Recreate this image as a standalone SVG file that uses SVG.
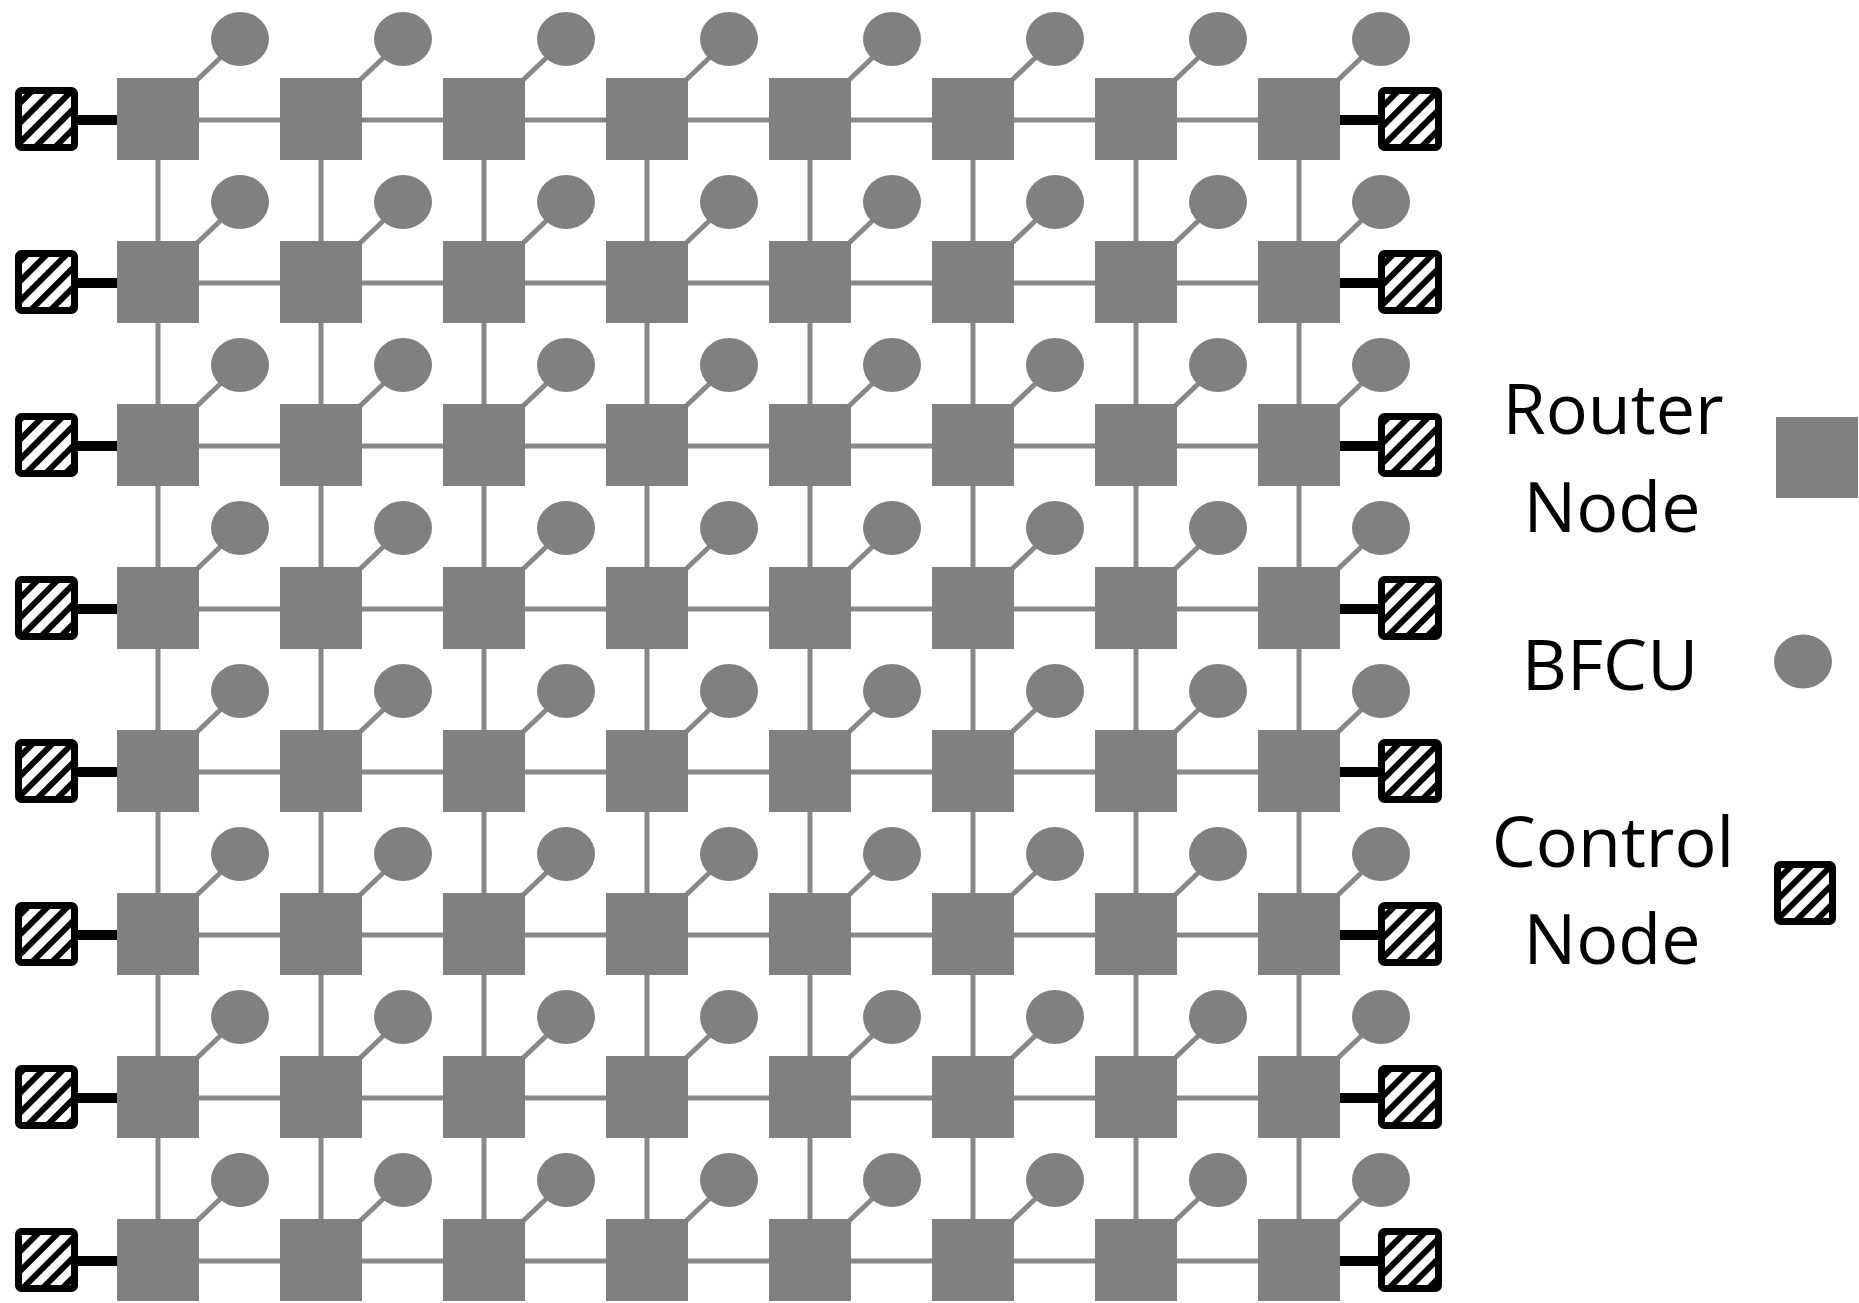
<svg xmlns="http://www.w3.org/2000/svg" width="1859" height="1303" viewBox="0 0 1859 1303">
<style>
.router{fill:#808080}
.bfcu{fill:#808080}
.link{stroke:#888888;stroke-width:5;fill:none}
.ctl-link{stroke:#000;stroke-width:10;fill:none}
.ctl{fill:url(#hatch);stroke:#000;stroke-width:7}
.lbl{font-family:"Open Sans","Liberation Sans",sans-serif;font-size:70px;fill:#000;text-anchor:middle}
</style>
<defs>
<pattern id="hatch" patternUnits="userSpaceOnUse" width="14" height="14" patternTransform="rotate(45)">
<rect width="14" height="14" fill="#fff"/>
<rect width="6" height="14" fill="#000"/>
</pattern>
</defs>
<rect width="1859" height="1303" fill="#fff"/>
<g id="connectors">
<path class="link" d="M158 120H1299M158 283H1299M158 446H1299M158 609H1299M158 772H1299M158 935H1299M158 1098H1299M158 1261H1299"/>
<path class="link" d="M158 120V1261M321 120V1261M484 120V1261M647 120V1261M810 120V1261M973 120V1261M1136 120V1261M1299 120V1261"/>
<path class="link" d="M197 80L238 41M360 80L401 41M523 80L564 41M686 80L727 41M849 80L890 41M1012 80L1053 41M1175 80L1216 41M1338 80L1379 41"/>
<path class="link" d="M197 243L238 204M360 243L401 204M523 243L564 204M686 243L727 204M849 243L890 204M1012 243L1053 204M1175 243L1216 204M1338 243L1379 204"/>
<path class="link" d="M197 406L238 367M360 406L401 367M523 406L564 367M686 406L727 367M849 406L890 367M1012 406L1053 367M1175 406L1216 367M1338 406L1379 367"/>
<path class="link" d="M197 569L238 530M360 569L401 530M523 569L564 530M686 569L727 530M849 569L890 530M1012 569L1053 530M1175 569L1216 530M1338 569L1379 530"/>
<path class="link" d="M197 732L238 693M360 732L401 693M523 732L564 693M686 732L727 693M849 732L890 693M1012 732L1053 693M1175 732L1216 693M1338 732L1379 693"/>
<path class="link" d="M197 895L238 856M360 895L401 856M523 895L564 856M686 895L727 856M849 895L890 856M1012 895L1053 856M1175 895L1216 856M1338 895L1379 856"/>
<path class="link" d="M197 1058L238 1019M360 1058L401 1019M523 1058L564 1019M686 1058L727 1019M849 1058L890 1019M1012 1058L1053 1019M1175 1058L1216 1019M1338 1058L1379 1019"/>
<path class="link" d="M197 1221L238 1182M360 1221L401 1182M523 1221L564 1182M686 1221L727 1182M849 1221L890 1182M1012 1221L1053 1182M1175 1221L1216 1182M1338 1221L1379 1182"/>
<path class="ctl-link" d="M76 120H118M76 283H118M76 446H118M76 609H118M76 772H118M76 935H118M76 1098H118M76 1261H118"/>
<path class="ctl-link" d="M1339 120H1380M1339 283H1380M1339 446H1380M1339 609H1380M1339 772H1380M1339 935H1380M1339 1098H1380M1339 1261H1380"/>
</g>
<g id="routers">
<g id="router-1-1"><rect class="router" x="117" y="78" width="82" height="82"/></g>
<g id="router-1-2"><rect class="router" x="280" y="78" width="82" height="82"/></g>
<g id="router-1-3"><rect class="router" x="443" y="78" width="82" height="82"/></g>
<g id="router-1-4"><rect class="router" x="606" y="78" width="82" height="82"/></g>
<g id="router-1-5"><rect class="router" x="769" y="78" width="82" height="82"/></g>
<g id="router-1-6"><rect class="router" x="932" y="78" width="82" height="82"/></g>
<g id="router-1-7"><rect class="router" x="1095" y="78" width="82" height="82"/></g>
<g id="router-1-8"><rect class="router" x="1258" y="78" width="82" height="82"/></g>
<g id="router-2-1"><rect class="router" x="117" y="241" width="82" height="82"/></g>
<g id="router-2-2"><rect class="router" x="280" y="241" width="82" height="82"/></g>
<g id="router-2-3"><rect class="router" x="443" y="241" width="82" height="82"/></g>
<g id="router-2-4"><rect class="router" x="606" y="241" width="82" height="82"/></g>
<g id="router-2-5"><rect class="router" x="769" y="241" width="82" height="82"/></g>
<g id="router-2-6"><rect class="router" x="932" y="241" width="82" height="82"/></g>
<g id="router-2-7"><rect class="router" x="1095" y="241" width="82" height="82"/></g>
<g id="router-2-8"><rect class="router" x="1258" y="241" width="82" height="82"/></g>
<g id="router-3-1"><rect class="router" x="117" y="404" width="82" height="82"/></g>
<g id="router-3-2"><rect class="router" x="280" y="404" width="82" height="82"/></g>
<g id="router-3-3"><rect class="router" x="443" y="404" width="82" height="82"/></g>
<g id="router-3-4"><rect class="router" x="606" y="404" width="82" height="82"/></g>
<g id="router-3-5"><rect class="router" x="769" y="404" width="82" height="82"/></g>
<g id="router-3-6"><rect class="router" x="932" y="404" width="82" height="82"/></g>
<g id="router-3-7"><rect class="router" x="1095" y="404" width="82" height="82"/></g>
<g id="router-3-8"><rect class="router" x="1258" y="404" width="82" height="82"/></g>
<g id="router-4-1"><rect class="router" x="117" y="567" width="82" height="82"/></g>
<g id="router-4-2"><rect class="router" x="280" y="567" width="82" height="82"/></g>
<g id="router-4-3"><rect class="router" x="443" y="567" width="82" height="82"/></g>
<g id="router-4-4"><rect class="router" x="606" y="567" width="82" height="82"/></g>
<g id="router-4-5"><rect class="router" x="769" y="567" width="82" height="82"/></g>
<g id="router-4-6"><rect class="router" x="932" y="567" width="82" height="82"/></g>
<g id="router-4-7"><rect class="router" x="1095" y="567" width="82" height="82"/></g>
<g id="router-4-8"><rect class="router" x="1258" y="567" width="82" height="82"/></g>
<g id="router-5-1"><rect class="router" x="117" y="730" width="82" height="82"/></g>
<g id="router-5-2"><rect class="router" x="280" y="730" width="82" height="82"/></g>
<g id="router-5-3"><rect class="router" x="443" y="730" width="82" height="82"/></g>
<g id="router-5-4"><rect class="router" x="606" y="730" width="82" height="82"/></g>
<g id="router-5-5"><rect class="router" x="769" y="730" width="82" height="82"/></g>
<g id="router-5-6"><rect class="router" x="932" y="730" width="82" height="82"/></g>
<g id="router-5-7"><rect class="router" x="1095" y="730" width="82" height="82"/></g>
<g id="router-5-8"><rect class="router" x="1258" y="730" width="82" height="82"/></g>
<g id="router-6-1"><rect class="router" x="117" y="893" width="82" height="82"/></g>
<g id="router-6-2"><rect class="router" x="280" y="893" width="82" height="82"/></g>
<g id="router-6-3"><rect class="router" x="443" y="893" width="82" height="82"/></g>
<g id="router-6-4"><rect class="router" x="606" y="893" width="82" height="82"/></g>
<g id="router-6-5"><rect class="router" x="769" y="893" width="82" height="82"/></g>
<g id="router-6-6"><rect class="router" x="932" y="893" width="82" height="82"/></g>
<g id="router-6-7"><rect class="router" x="1095" y="893" width="82" height="82"/></g>
<g id="router-6-8"><rect class="router" x="1258" y="893" width="82" height="82"/></g>
<g id="router-7-1"><rect class="router" x="117" y="1056" width="82" height="82"/></g>
<g id="router-7-2"><rect class="router" x="280" y="1056" width="82" height="82"/></g>
<g id="router-7-3"><rect class="router" x="443" y="1056" width="82" height="82"/></g>
<g id="router-7-4"><rect class="router" x="606" y="1056" width="82" height="82"/></g>
<g id="router-7-5"><rect class="router" x="769" y="1056" width="82" height="82"/></g>
<g id="router-7-6"><rect class="router" x="932" y="1056" width="82" height="82"/></g>
<g id="router-7-7"><rect class="router" x="1095" y="1056" width="82" height="82"/></g>
<g id="router-7-8"><rect class="router" x="1258" y="1056" width="82" height="82"/></g>
<g id="router-8-1"><rect class="router" x="117" y="1219" width="82" height="82"/></g>
<g id="router-8-2"><rect class="router" x="280" y="1219" width="82" height="82"/></g>
<g id="router-8-3"><rect class="router" x="443" y="1219" width="82" height="82"/></g>
<g id="router-8-4"><rect class="router" x="606" y="1219" width="82" height="82"/></g>
<g id="router-8-5"><rect class="router" x="769" y="1219" width="82" height="82"/></g>
<g id="router-8-6"><rect class="router" x="932" y="1219" width="82" height="82"/></g>
<g id="router-8-7"><rect class="router" x="1095" y="1219" width="82" height="82"/></g>
<g id="router-8-8"><rect class="router" x="1258" y="1219" width="82" height="82"/></g>
</g>
<g id="bfcus">
<g id="bfcu-1-1"><ellipse class="bfcu" cx="240" cy="39" rx="29" ry="27"/></g>
<g id="bfcu-1-2"><ellipse class="bfcu" cx="403" cy="39" rx="29" ry="27"/></g>
<g id="bfcu-1-3"><ellipse class="bfcu" cx="566" cy="39" rx="29" ry="27"/></g>
<g id="bfcu-1-4"><ellipse class="bfcu" cx="729" cy="39" rx="29" ry="27"/></g>
<g id="bfcu-1-5"><ellipse class="bfcu" cx="892" cy="39" rx="29" ry="27"/></g>
<g id="bfcu-1-6"><ellipse class="bfcu" cx="1055" cy="39" rx="29" ry="27"/></g>
<g id="bfcu-1-7"><ellipse class="bfcu" cx="1218" cy="39" rx="29" ry="27"/></g>
<g id="bfcu-1-8"><ellipse class="bfcu" cx="1381" cy="39" rx="29" ry="27"/></g>
<g id="bfcu-2-1"><ellipse class="bfcu" cx="240" cy="202" rx="29" ry="27"/></g>
<g id="bfcu-2-2"><ellipse class="bfcu" cx="403" cy="202" rx="29" ry="27"/></g>
<g id="bfcu-2-3"><ellipse class="bfcu" cx="566" cy="202" rx="29" ry="27"/></g>
<g id="bfcu-2-4"><ellipse class="bfcu" cx="729" cy="202" rx="29" ry="27"/></g>
<g id="bfcu-2-5"><ellipse class="bfcu" cx="892" cy="202" rx="29" ry="27"/></g>
<g id="bfcu-2-6"><ellipse class="bfcu" cx="1055" cy="202" rx="29" ry="27"/></g>
<g id="bfcu-2-7"><ellipse class="bfcu" cx="1218" cy="202" rx="29" ry="27"/></g>
<g id="bfcu-2-8"><ellipse class="bfcu" cx="1381" cy="202" rx="29" ry="27"/></g>
<g id="bfcu-3-1"><ellipse class="bfcu" cx="240" cy="365" rx="29" ry="27"/></g>
<g id="bfcu-3-2"><ellipse class="bfcu" cx="403" cy="365" rx="29" ry="27"/></g>
<g id="bfcu-3-3"><ellipse class="bfcu" cx="566" cy="365" rx="29" ry="27"/></g>
<g id="bfcu-3-4"><ellipse class="bfcu" cx="729" cy="365" rx="29" ry="27"/></g>
<g id="bfcu-3-5"><ellipse class="bfcu" cx="892" cy="365" rx="29" ry="27"/></g>
<g id="bfcu-3-6"><ellipse class="bfcu" cx="1055" cy="365" rx="29" ry="27"/></g>
<g id="bfcu-3-7"><ellipse class="bfcu" cx="1218" cy="365" rx="29" ry="27"/></g>
<g id="bfcu-3-8"><ellipse class="bfcu" cx="1381" cy="365" rx="29" ry="27"/></g>
<g id="bfcu-4-1"><ellipse class="bfcu" cx="240" cy="528" rx="29" ry="27"/></g>
<g id="bfcu-4-2"><ellipse class="bfcu" cx="403" cy="528" rx="29" ry="27"/></g>
<g id="bfcu-4-3"><ellipse class="bfcu" cx="566" cy="528" rx="29" ry="27"/></g>
<g id="bfcu-4-4"><ellipse class="bfcu" cx="729" cy="528" rx="29" ry="27"/></g>
<g id="bfcu-4-5"><ellipse class="bfcu" cx="892" cy="528" rx="29" ry="27"/></g>
<g id="bfcu-4-6"><ellipse class="bfcu" cx="1055" cy="528" rx="29" ry="27"/></g>
<g id="bfcu-4-7"><ellipse class="bfcu" cx="1218" cy="528" rx="29" ry="27"/></g>
<g id="bfcu-4-8"><ellipse class="bfcu" cx="1381" cy="528" rx="29" ry="27"/></g>
<g id="bfcu-5-1"><ellipse class="bfcu" cx="240" cy="691" rx="29" ry="27"/></g>
<g id="bfcu-5-2"><ellipse class="bfcu" cx="403" cy="691" rx="29" ry="27"/></g>
<g id="bfcu-5-3"><ellipse class="bfcu" cx="566" cy="691" rx="29" ry="27"/></g>
<g id="bfcu-5-4"><ellipse class="bfcu" cx="729" cy="691" rx="29" ry="27"/></g>
<g id="bfcu-5-5"><ellipse class="bfcu" cx="892" cy="691" rx="29" ry="27"/></g>
<g id="bfcu-5-6"><ellipse class="bfcu" cx="1055" cy="691" rx="29" ry="27"/></g>
<g id="bfcu-5-7"><ellipse class="bfcu" cx="1218" cy="691" rx="29" ry="27"/></g>
<g id="bfcu-5-8"><ellipse class="bfcu" cx="1381" cy="691" rx="29" ry="27"/></g>
<g id="bfcu-6-1"><ellipse class="bfcu" cx="240" cy="854" rx="29" ry="27"/></g>
<g id="bfcu-6-2"><ellipse class="bfcu" cx="403" cy="854" rx="29" ry="27"/></g>
<g id="bfcu-6-3"><ellipse class="bfcu" cx="566" cy="854" rx="29" ry="27"/></g>
<g id="bfcu-6-4"><ellipse class="bfcu" cx="729" cy="854" rx="29" ry="27"/></g>
<g id="bfcu-6-5"><ellipse class="bfcu" cx="892" cy="854" rx="29" ry="27"/></g>
<g id="bfcu-6-6"><ellipse class="bfcu" cx="1055" cy="854" rx="29" ry="27"/></g>
<g id="bfcu-6-7"><ellipse class="bfcu" cx="1218" cy="854" rx="29" ry="27"/></g>
<g id="bfcu-6-8"><ellipse class="bfcu" cx="1381" cy="854" rx="29" ry="27"/></g>
<g id="bfcu-7-1"><ellipse class="bfcu" cx="240" cy="1017" rx="29" ry="27"/></g>
<g id="bfcu-7-2"><ellipse class="bfcu" cx="403" cy="1017" rx="29" ry="27"/></g>
<g id="bfcu-7-3"><ellipse class="bfcu" cx="566" cy="1017" rx="29" ry="27"/></g>
<g id="bfcu-7-4"><ellipse class="bfcu" cx="729" cy="1017" rx="29" ry="27"/></g>
<g id="bfcu-7-5"><ellipse class="bfcu" cx="892" cy="1017" rx="29" ry="27"/></g>
<g id="bfcu-7-6"><ellipse class="bfcu" cx="1055" cy="1017" rx="29" ry="27"/></g>
<g id="bfcu-7-7"><ellipse class="bfcu" cx="1218" cy="1017" rx="29" ry="27"/></g>
<g id="bfcu-7-8"><ellipse class="bfcu" cx="1381" cy="1017" rx="29" ry="27"/></g>
<g id="bfcu-8-1"><ellipse class="bfcu" cx="240" cy="1180" rx="29" ry="27"/></g>
<g id="bfcu-8-2"><ellipse class="bfcu" cx="403" cy="1180" rx="29" ry="27"/></g>
<g id="bfcu-8-3"><ellipse class="bfcu" cx="566" cy="1180" rx="29" ry="27"/></g>
<g id="bfcu-8-4"><ellipse class="bfcu" cx="729" cy="1180" rx="29" ry="27"/></g>
<g id="bfcu-8-5"><ellipse class="bfcu" cx="892" cy="1180" rx="29" ry="27"/></g>
<g id="bfcu-8-6"><ellipse class="bfcu" cx="1055" cy="1180" rx="29" ry="27"/></g>
<g id="bfcu-8-7"><ellipse class="bfcu" cx="1218" cy="1180" rx="29" ry="27"/></g>
<g id="bfcu-8-8"><ellipse class="bfcu" cx="1381" cy="1180" rx="29" ry="27"/></g>
</g>
<g id="controls">
<g id="control-L1"><rect class="ctl" x="18.5" y="90.5" width="56" height="57" rx="3"/></g>
<g id="control-L2"><rect class="ctl" x="18.5" y="253.5" width="56" height="57" rx="3"/></g>
<g id="control-L3"><rect class="ctl" x="18.5" y="416.5" width="56" height="57" rx="3"/></g>
<g id="control-L4"><rect class="ctl" x="18.5" y="579.5" width="56" height="57" rx="3"/></g>
<g id="control-L5"><rect class="ctl" x="18.5" y="742.5" width="56" height="57" rx="3"/></g>
<g id="control-L6"><rect class="ctl" x="18.5" y="905.5" width="56" height="57" rx="3"/></g>
<g id="control-L7"><rect class="ctl" x="18.5" y="1068.5" width="56" height="57" rx="3"/></g>
<g id="control-L8"><rect class="ctl" x="18.5" y="1231.5" width="56" height="57" rx="3"/></g>
<g id="control-R1"><rect class="ctl" x="1381.5" y="90.5" width="57" height="57" rx="3"/></g>
<g id="control-R2"><rect class="ctl" x="1381.5" y="253.5" width="57" height="57" rx="3"/></g>
<g id="control-R3"><rect class="ctl" x="1381.5" y="416.5" width="57" height="57" rx="3"/></g>
<g id="control-R4"><rect class="ctl" x="1381.5" y="579.5" width="57" height="57" rx="3"/></g>
<g id="control-R5"><rect class="ctl" x="1381.5" y="742.5" width="57" height="57" rx="3"/></g>
<g id="control-R6"><rect class="ctl" x="1381.5" y="905.5" width="57" height="57" rx="3"/></g>
<g id="control-R7"><rect class="ctl" x="1381.5" y="1068.5" width="57" height="57" rx="3"/></g>
<g id="control-R8"><rect class="ctl" x="1381.5" y="1231.5" width="57" height="57" rx="3"/></g>
</g>
<g id="legend">
<g id="legend-router">
<text class="lbl" x="1613" y="434">Router</text>
<text class="lbl" x="1612" y="532">Node</text>
<rect class="router" x="1776" y="417" width="82" height="81"/>
</g>
<g id="legend-bfcu">
<text class="lbl" x="1610" y="690">BFCU</text>
<ellipse class="bfcu" cx="1803" cy="661.5" rx="29" ry="27"/>
</g>
<g id="legend-control">
<text class="lbl" x="1613" y="867">Control</text>
<text class="lbl" x="1612" y="964">Node</text>
<rect class="ctl" x="1777.5" y="864.5" width="55" height="57" rx="3"/>
</g>
</g>
</svg>
